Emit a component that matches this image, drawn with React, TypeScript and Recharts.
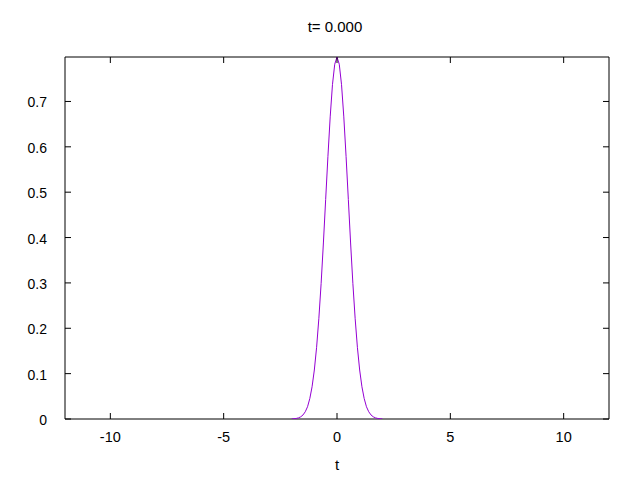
import React from "react";
import { LineChart, Line, XAxis, YAxis, Label, ReferenceArea } from "recharts";

const tValues = [
  -2.0, -1.9, -1.8, -1.7, -1.6, -1.5, -1.4, -1.3, -1.2, -1.1, -1.0, -0.9, -0.8, -0.7, -0.6, -0.5, -0.4, -0.3, -0.2, -0.1,
  0.0, 0.1, 0.2, 0.3, 0.4, 0.5, 0.6, 0.7, 0.8, 0.9, 1.0, 1.1, 1.2, 1.3, 1.4, 1.5, 1.6, 1.7, 1.8, 1.9, 2.0,
];
const amplitude = [
  0.0003, 0.0006, 0.0012, 0.0025, 0.0048, 0.0089, 0.016, 0.027, 0.045, 0.071, 0.108, 0.158, 0.222, 0.299, 0.388, 0.484,
  0.579, 0.666, 0.737, 0.782, 0.798, 0.782, 0.737, 0.666, 0.579, 0.484, 0.388, 0.299, 0.222, 0.158, 0.108, 0.071, 0.045,
  0.027, 0.016, 0.0089, 0.0048, 0.0025, 0.0012, 0.0006, 0.0003,
];
const xTicks = [-10, -5, 0, 5, 10];
const yTicks = [0, 0.1, 0.2, 0.3, 0.4, 0.5, 0.6, 0.7];

const data = tValues.map((t, i) => ({ t, y: amplitude[i] }));

const FONT = "Liberation Sans, Arial, sans-serif";
const PLOT_TOP = 57;
const PLOT_RIGHT = 609;
const TICK = 6;

// gnuplot style: labels outside, tick marks inside on both mirrored sides
const XTick = (props: any) => {
  const { x, y, payload } = props;
  return (
    <g>
      <line x1={x} y1={y} x2={x} y2={y - TICK} stroke="#000" />
      <line x1={x} y1={PLOT_TOP} x2={x} y2={PLOT_TOP + TICK} stroke="#000" />
      <text x={x} y={y + 13} dy="0.71em" textAnchor="middle" fontFamily={FONT} fontSize={14.5} fill="#000">
        {String(payload.value)}
      </text>
    </g>
  );
};

const YTick = (props: any) => {
  const { x, y, payload } = props;
  return (
    <g>
      <line x1={x} y1={y} x2={x + TICK} y2={y} stroke="#000" />
      <line x1={PLOT_RIGHT} y1={y} x2={PLOT_RIGHT - TICK} y2={y} stroke="#000" />
      <text x={x - 18} y={y + 1} dy="0.355em" textAnchor="end" fontFamily={FONT} fontSize={14} fill="#000">
        {String(Math.round(payload.value * 10) / 10)}
      </text>
    </g>
  );
};

export default function App() {
  return (
    <div style={{ position: "absolute", left: 0, top: 0, width: 640, height: 480, background: "#fff" }}>
      <div
        style={{
          position: "absolute",
          left: 65,
          width: 540,
          top: 19,
          textAlign: "center",
          fontFamily: FONT,
          fontSize: 15,
          lineHeight: "16px",
          color: "#000",
        }}
      >
        t= 0.000
      </div>
      <LineChart width={640} height={480} data={data} margin={{ top: PLOT_TOP, right: 640 - PLOT_RIGHT, bottom: 0, left: 0 }}>
        <XAxis
          dataKey="t"
          type="number"
          domain={[-12, 12]}
          ticks={xTicks}
          allowDataOverflow
          height={61}
          tickSize={0}
          tickMargin={0}
          axisLine={false}
          tickLine={false}
          tick={<XTick />}
        >
          <Label value="t" position="insideBottom" offset={10} style={{ fontFamily: FONT, fontSize: 15, fill: "#000" }} />
        </XAxis>
        <YAxis
          type="number"
          domain={[0, 0.798]}
          ticks={yTicks}
          allowDataOverflow
          width={65}
          tickSize={0}
          tickMargin={0}
          axisLine={false}
          tickLine={false}
          tick={<YTick />}
        />
        <ReferenceArea x1={-12} x2={12} y1={0} y2={0.798} fill="none" stroke="#000" strokeWidth={1} />
        <Line
          type="linear"
          dataKey="y"
          stroke="#9400d3"
          strokeWidth={1}
          dot={false}
          isAnimationActive={false}
        />
      </LineChart>
    </div>
  );
}
